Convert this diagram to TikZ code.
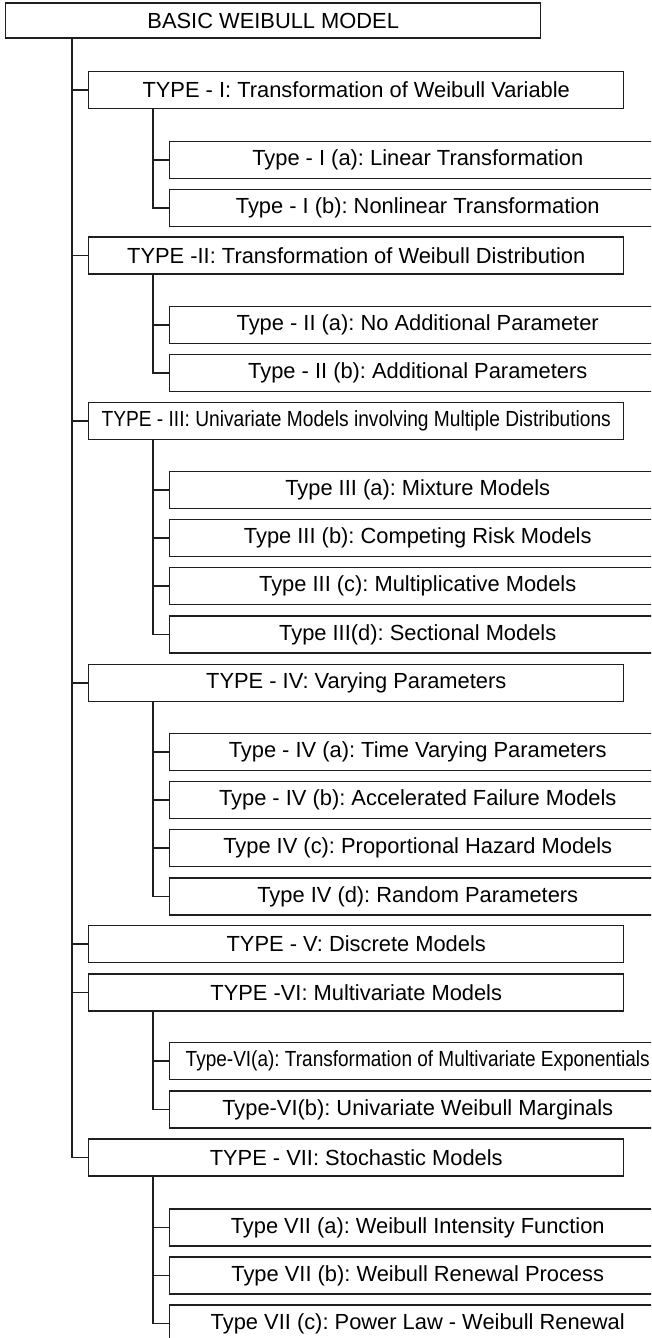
\documentclass[tikz,border=0pt]{standalone}
\usepackage{fontspec}
\setmainfont{Liberation Sans}
\usepackage{graphicx}
\frenchspacing
\begin{document}
\begin{tikzpicture}[x=0.75pt,y=-0.75pt,
  box/.style={draw=black!88, line width=1.1pt, fill=white, inner sep=0pt,
    minimum height=27.75pt, anchor=west,
    font=\fontsize{16.4}{19}\selectfont},
  topbox/.style={box, minimum width=401.25pt, minimum height=26.25pt},
  mainbox/.style={box, minimum width=401.25pt},
  subbox/.style={box, minimum width=372pt},
  link/.style={draw=black!88, line width=1.1pt}]
\useasboundingbox (0,0) rectangle (651,1338);
\clip (0,0) rectangle (651,1338);

% root
\node[topbox] (top) at (5,20.5) {BASIC WEIBULL MODEL};

% first level
\node[mainbox] (t1) at (88,90)     {TYPE - I: Transformation of Weibull Variable};
\node[mainbox] (t2) at (88,255.5)  {TYPE -II: Transformation of Weibull Distribution};
\node[mainbox] (t3) at (88,421)    {\resizebox{382pt}{\height}{TYPE - III: Univariate Models involving Multiple Distributions}};
\node[mainbox] (t4) at (88,683)    {TYPE - IV: Varying Parameters};
\node[mainbox] (t5) at (88,944)    {TYPE - V: Discrete Models};
\node[mainbox] (t6) at (88,992.5)  {TYPE -VI: Multivariate Models};
\node[mainbox] (t7) at (88,1157.5) {TYPE - VII: Stochastic Models};

% second level
\node[subbox] (t1a) at (169,160)   {Type - I (a): Linear Transformation};
\node[subbox] (t1b) at (169,208)   {Type - I (b): Nonlinear Transformation};
\node[subbox] (t2a) at (169,325)   {Type - II (a): No Additional Parameter};
\node[subbox] (t2b) at (169,373)   {Type - II (b): Additional Parameters};
\node[subbox] (t3a) at (169,490)   {Type III (a): Mixture Models};
\node[subbox] (t3b) at (169,538)   {Type III (b): Competing Risk Models};
\node[subbox] (t3c) at (169,586)   {Type III (c): Multiplicative Models};
\node[subbox] (t3d) at (169,634.5) {Type III(d): Sectional Models};
\node[subbox] (t4a) at (169,752)   {Type - IV (a): Time Varying Parameters};
\node[subbox] (t4b) at (169,800)   {Type - IV (b): Accelerated Failure Models};
\node[subbox] (t4c) at (169,848)   {Type IV (c): Proportional Hazard Models};
\node[subbox] (t4d) at (169,896.5) {Type IV (d): Random Parameters};
\node[subbox] (t6a) at (169,1061)  {\resizebox{348pt}{\height}{Type-VI(a): Transformation of Multivariate Exponentials}};
\node[subbox] (t6b) at (169,1109.5){Type-VI(b): Univariate Weibull Marginals};
\node[subbox] (t7a) at (169,1227.5){Type VII (a): Weibull Intensity Function};
\node[subbox] (t7b) at (169,1275.5){Type VII (b): Weibull Renewal Process};
\node[subbox] (t7c) at (169,1323.5){Type VII (c): Power Law - Weibull Renewal};

% main trunk
\coordinate (trunk) at ([xshift=50.25pt]top.south west);
\draw[link] (trunk) |- (t7.west);
\foreach \n in {t1,t2,t3,t4,t5,t6}
  \draw[link] (\n.west) -- (\n.west -| trunk);

% branch trunks
\foreach \p/\last/\others in {t1/t1b/{t1a}, t2/t2b/{t2a}, t3/t3d/{t3a,t3b,t3c},
                              t4/t4d/{t4a,t4b,t4c}, t6/t6b/{t6a}, t7/t7c/{t7a,t7b}} {
  \coordinate (s-\p) at ([xshift=48.75pt]\p.south west);
  \draw[link] (s-\p) |- (\last.west);
  \foreach \c in \others
    \draw[link] (\c.west) -- (\c.west -| s-\p);
}
\end{tikzpicture}
\end{document}
